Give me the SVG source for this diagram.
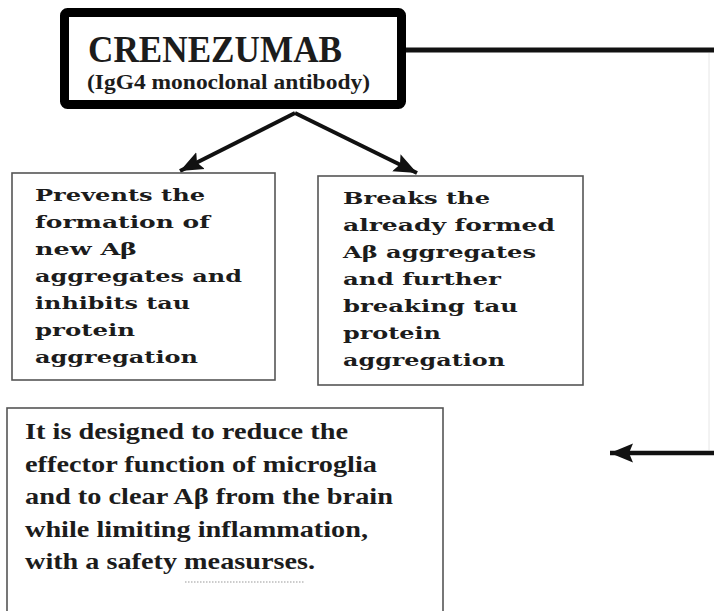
<svg xmlns="http://www.w3.org/2000/svg" width="714" height="611" viewBox="0 0 714 611">
  <style>
    .t { font-family: "Liberation Serif", "Times New Roman", serif; font-weight: bold; fill: #1c1c1c; }
    .s { font-family: "DejaVu Serif", "Liberation Serif", serif; font-weight: bold; fill: #1c1c1c; }
    .box { fill: #ffffff; stroke: #555555; stroke-width: 1.6; }
    .conn { stroke: #111111; fill: none; }
  </style>
  <defs>
    <marker id="ah" markerUnits="userSpaceOnUse" markerWidth="26" markerHeight="24" refX="23" refY="12" orient="auto">
      <path d="M0,2.5 L23,12 L0,21.5 L4,12 Z" fill="#111111"/>
    </marker>
  </defs>
  <rect width="714" height="611" fill="#ffffff"/>

  <g id="connectors">
    <line class="conn" x1="406" y1="50" x2="714" y2="50" stroke-width="5"/>
    <line x1="709" y1="53" x2="709" y2="450" stroke="#e6e6e6" stroke-width="1"/>
    <line class="conn" x1="714" y1="453" x2="610" y2="453" stroke-width="4.5" marker-end="url(#ah)"/>
    <line class="conn" x1="295" y1="113" x2="180" y2="171" stroke-width="4" marker-end="url(#ah)"/>
    <line class="conn" x1="295" y1="113" x2="417" y2="173" stroke-width="4" marker-end="url(#ah)"/>
  </g>

  <g id="crenezumab">
    <rect x="64.5" y="12.5" width="337" height="92" rx="3" fill="#ffffff" stroke="#000000" stroke-width="9"/>
    <text class="t" x="88" y="62" font-size="37" textLength="254" lengthAdjust="spacingAndGlyphs">CRENEZUMAB</text>
    <text class="t" x="87" y="89" font-size="20" textLength="283" lengthAdjust="spacingAndGlyphs">(IgG4 monoclonal antibody)</text>
  </g>

  <g id="prevents">
    <rect class="box" x="12" y="173" width="263" height="207"/>
    <g class="s" font-size="17.5">
      <text x="35" y="201" textLength="170" lengthAdjust="spacingAndGlyphs">Prevents the</text>
      <text x="35" y="228" textLength="175" lengthAdjust="spacingAndGlyphs">formation of</text>
      <text x="35" y="255" textLength="102" lengthAdjust="spacingAndGlyphs">new Aβ</text>
      <text x="35" y="282" textLength="207" lengthAdjust="spacingAndGlyphs">aggregates and</text>
      <text x="35" y="309" textLength="155" lengthAdjust="spacingAndGlyphs">inhibits tau</text>
      <text x="35" y="336" textLength="100" lengthAdjust="spacingAndGlyphs">protein</text>
      <text x="35" y="363" textLength="163" lengthAdjust="spacingAndGlyphs">aggregation</text>
    </g>
  </g>

  <g id="breaks">
    <rect class="box" x="318" y="176" width="265" height="209"/>
    <g class="s" font-size="17.5">
      <text x="343" y="204" textLength="147" lengthAdjust="spacingAndGlyphs">Breaks the</text>
      <text x="343" y="231" textLength="212" lengthAdjust="spacingAndGlyphs">already formed</text>
      <text x="343" y="258" textLength="193" lengthAdjust="spacingAndGlyphs">Aβ aggregates</text>
      <text x="343" y="285" textLength="158" lengthAdjust="spacingAndGlyphs">and further</text>
      <text x="343" y="312" textLength="175" lengthAdjust="spacingAndGlyphs">breaking tau</text>
      <text x="343" y="339" textLength="98" lengthAdjust="spacingAndGlyphs">protein</text>
      <text x="343" y="366" textLength="162" lengthAdjust="spacingAndGlyphs">aggregation</text>
    </g>
  </g>

  <g id="designed">
    <rect class="box" x="7" y="408" width="436" height="215"/>
    <g class="t" font-size="24">
      <text x="25" y="439" textLength="323" lengthAdjust="spacingAndGlyphs">It is designed to reduce the</text>
      <text x="25" y="472" textLength="352" lengthAdjust="spacingAndGlyphs">effector function of microglia</text>
      <text x="25" y="504" textLength="368" lengthAdjust="spacingAndGlyphs">and to clear Aβ from the brain</text>
      <text x="25" y="537" textLength="343" lengthAdjust="spacingAndGlyphs">while limiting inflammation,</text>
      <text x="25" y="569" textLength="290" lengthAdjust="spacingAndGlyphs">with a safety measurses.</text>
    </g>
    <line x1="185" y1="582" x2="305" y2="582" stroke="#999999" stroke-width="1.2" stroke-dasharray="1.5 1.5"/>
  </g>
</svg>
